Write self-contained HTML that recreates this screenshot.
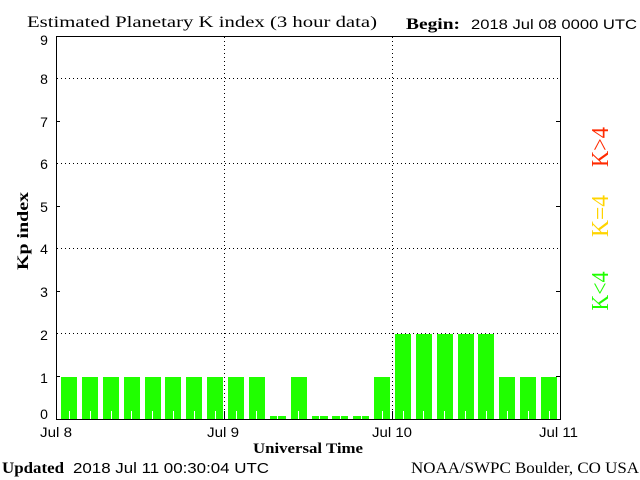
<!DOCTYPE html>
<html><head><meta charset="utf-8"><style>
html,body{margin:0;padding:0;background:#fff;}
svg{display:block;}
.serif{font-family:"Liberation Serif",serif;}
.sans{font-family:"Liberation Sans",sans-serif;}
</style></head><body>
<svg width="640" height="480" viewBox="0 0 640 480" xmlns="http://www.w3.org/2000/svg">
<rect x="0" y="0" width="640" height="480" fill="#fff"/>
<!-- bars -->
<g fill="#20ff00" shape-rendering="crispEdges">
<rect x="61" y="377" width="16" height="42"/>
<rect x="82" y="377" width="16" height="42"/>
<rect x="103" y="377" width="16" height="42"/>
<rect x="124" y="377" width="16" height="42"/>
<rect x="145" y="377" width="16" height="42"/>
<rect x="165" y="377" width="16" height="42"/>
<rect x="186" y="377" width="16" height="42"/>
<rect x="207" y="377" width="16" height="42"/>
<rect x="228" y="377" width="16" height="42"/>
<rect x="249" y="377" width="16" height="42"/>
<rect x="270" y="416" width="16" height="3"/>
<rect x="291" y="377" width="16" height="42"/>
<rect x="312" y="416" width="16" height="3"/>
<rect x="332" y="416" width="16" height="3"/>
<rect x="353" y="416" width="16" height="3"/>
<rect x="374" y="377" width="16" height="42"/>
<rect x="395" y="334" width="16" height="85"/>
<rect x="416" y="334" width="16" height="85"/>
<rect x="437" y="334" width="16" height="85"/>
<rect x="458" y="334" width="16" height="85"/>
<rect x="478" y="334" width="16" height="85"/>
<rect x="499" y="377" width="16" height="42"/>
<rect x="520" y="377" width="16" height="42"/>
<rect x="541" y="377" width="16" height="42"/>
</g>
<!-- white minor ticks -->
<g fill="#fff" shape-rendering="crispEdges">
<rect x="69" y="411" width="1" height="8"/>
<rect x="90" y="411" width="1" height="8"/>
<rect x="111" y="411" width="1" height="8"/>
<rect x="131" y="411" width="1" height="8"/>
<rect x="152" y="411" width="1" height="8"/>
<rect x="173" y="411" width="1" height="8"/>
<rect x="194" y="411" width="1" height="8"/>
<rect x="215" y="411" width="1" height="8"/>
<rect x="236" y="411" width="1" height="8"/>
<rect x="256" y="411" width="1" height="8"/>
<rect x="277" y="411" width="1" height="8"/>
<rect x="298" y="411" width="1" height="8"/>
<rect x="319" y="411" width="1" height="8"/>
<rect x="340" y="411" width="1" height="8"/>
<rect x="361" y="411" width="1" height="8"/>
<rect x="382" y="411" width="1" height="8"/>
<rect x="403" y="411" width="1" height="8"/>
<rect x="423" y="411" width="1" height="8"/>
<rect x="444" y="411" width="1" height="8"/>
<rect x="465" y="411" width="1" height="8"/>
<rect x="486" y="411" width="1" height="8"/>
<rect x="507" y="411" width="1" height="8"/>
<rect x="528" y="411" width="1" height="8"/>
<rect x="549" y="411" width="1" height="8"/>
</g>
<!-- gridlines -->
<g stroke="#000" stroke-width="1" stroke-dasharray="1 3" shape-rendering="crispEdges" fill="none">
<line x1="57" y1="78.5" x2="560" y2="78.5"/>
<line x1="57" y1="163.5" x2="560" y2="163.5"/>
<line x1="57" y1="248.5" x2="560" y2="248.5"/>
<line x1="57" y1="333.5" x2="560" y2="333.5"/>
<line x1="224.5" y1="37" x2="224.5" y2="411"/>
<line x1="392.5" y1="37" x2="392.5" y2="411"/>
</g>
<!-- frame & ticks -->
<g stroke="#000" stroke-width="1" shape-rendering="crispEdges" fill="none">
<rect x="56.5" y="36.5" width="504" height="383"/>
<line x1="56" y1="121.5" x2="60" y2="121.5"/>
<line x1="56" y1="206.5" x2="60" y2="206.5"/>
<line x1="56" y1="291.5" x2="60" y2="291.5"/>
<line x1="56" y1="376.5" x2="60" y2="376.5"/>
<line x1="556" y1="121.5" x2="560" y2="121.5"/>
<line x1="556" y1="206.5" x2="560" y2="206.5"/>
<line x1="556" y1="291.5" x2="560" y2="291.5"/>
<line x1="556" y1="376.5" x2="560" y2="376.5"/>
<line x1="224.5" y1="411" x2="224.5" y2="419"/>
<line x1="392.5" y1="411" x2="392.5" y2="419"/>
</g>
<!-- y labels -->
<g class="sans" font-size="14" fill="#000" text-anchor="middle">
<text x="44" y="45">9</text>
<text x="44" y="84">8</text>
<text x="44" y="127">7</text>
<text x="44" y="169">6</text>
<text x="44" y="212">5</text>
<text x="44" y="254">4</text>
<text x="44" y="297">3</text>
<text x="44" y="340">2</text>
<text x="44" y="383">1</text>
<text x="44" y="419">0</text>
</g>
<!-- x labels -->
<g class="sans" font-size="14" fill="#000">
<text x="40" y="437" textLength="32" lengthAdjust="spacingAndGlyphs">Jul 8</text>
<text x="207" y="437" textLength="32" lengthAdjust="spacingAndGlyphs">Jul 9</text>
<text x="372" y="437" textLength="40" lengthAdjust="spacingAndGlyphs">Jul 10</text>
<text x="539" y="437" textLength="39" lengthAdjust="spacingAndGlyphs">Jul 11</text>
</g>
<!-- titles -->
<text class="serif" x="27" y="27" font-size="16" textLength="350" lengthAdjust="spacingAndGlyphs">Estimated Planetary K index (3 hour data)</text>
<text class="serif" x="406" y="29" font-size="16" font-weight="bold" textLength="54" lengthAdjust="spacingAndGlyphs">Begin:</text>
<text class="sans" x="471" y="29" font-size="14" textLength="166" lengthAdjust="spacingAndGlyphs">2018 Jul 08 0000 UTC</text>
<text class="serif" x="253" y="453" font-size="15" font-weight="bold" textLength="110" lengthAdjust="spacingAndGlyphs">Universal Time</text>
<text class="serif" x="2" y="473" font-size="16" font-weight="bold" textLength="62" lengthAdjust="spacingAndGlyphs">Updated</text>
<text class="sans" x="73" y="473" font-size="15" textLength="196" lengthAdjust="spacingAndGlyphs">2018 Jul 11 00:30:04 UTC</text>
<text class="serif" x="411" y="473" font-size="16" textLength="228" lengthAdjust="spacingAndGlyphs">NOAA/SWPC Boulder, CO USA</text>
<text class="serif" transform="translate(28,231) rotate(-90)" x="0" y="0" font-size="16" font-weight="bold" text-anchor="middle" textLength="78" lengthAdjust="spacingAndGlyphs">Kp index</text>
<!-- right legend -->
<text class="serif" transform="translate(608,147) rotate(-90)" x="0" y="0" font-size="24" fill="#ff2a00" text-anchor="middle" textLength="40" lengthAdjust="spacingAndGlyphs">K&gt;4</text>
<text class="serif" transform="translate(608,216) rotate(-90)" x="0" y="0" font-size="24" fill="#ffd400" text-anchor="middle" textLength="42" lengthAdjust="spacingAndGlyphs">K=4</text>
<text class="serif" transform="translate(608,291) rotate(-90)" x="0" y="0" font-size="24" fill="#20ff00" text-anchor="middle" textLength="39" lengthAdjust="spacingAndGlyphs">K&lt;4</text>
</svg>
</body></html>
